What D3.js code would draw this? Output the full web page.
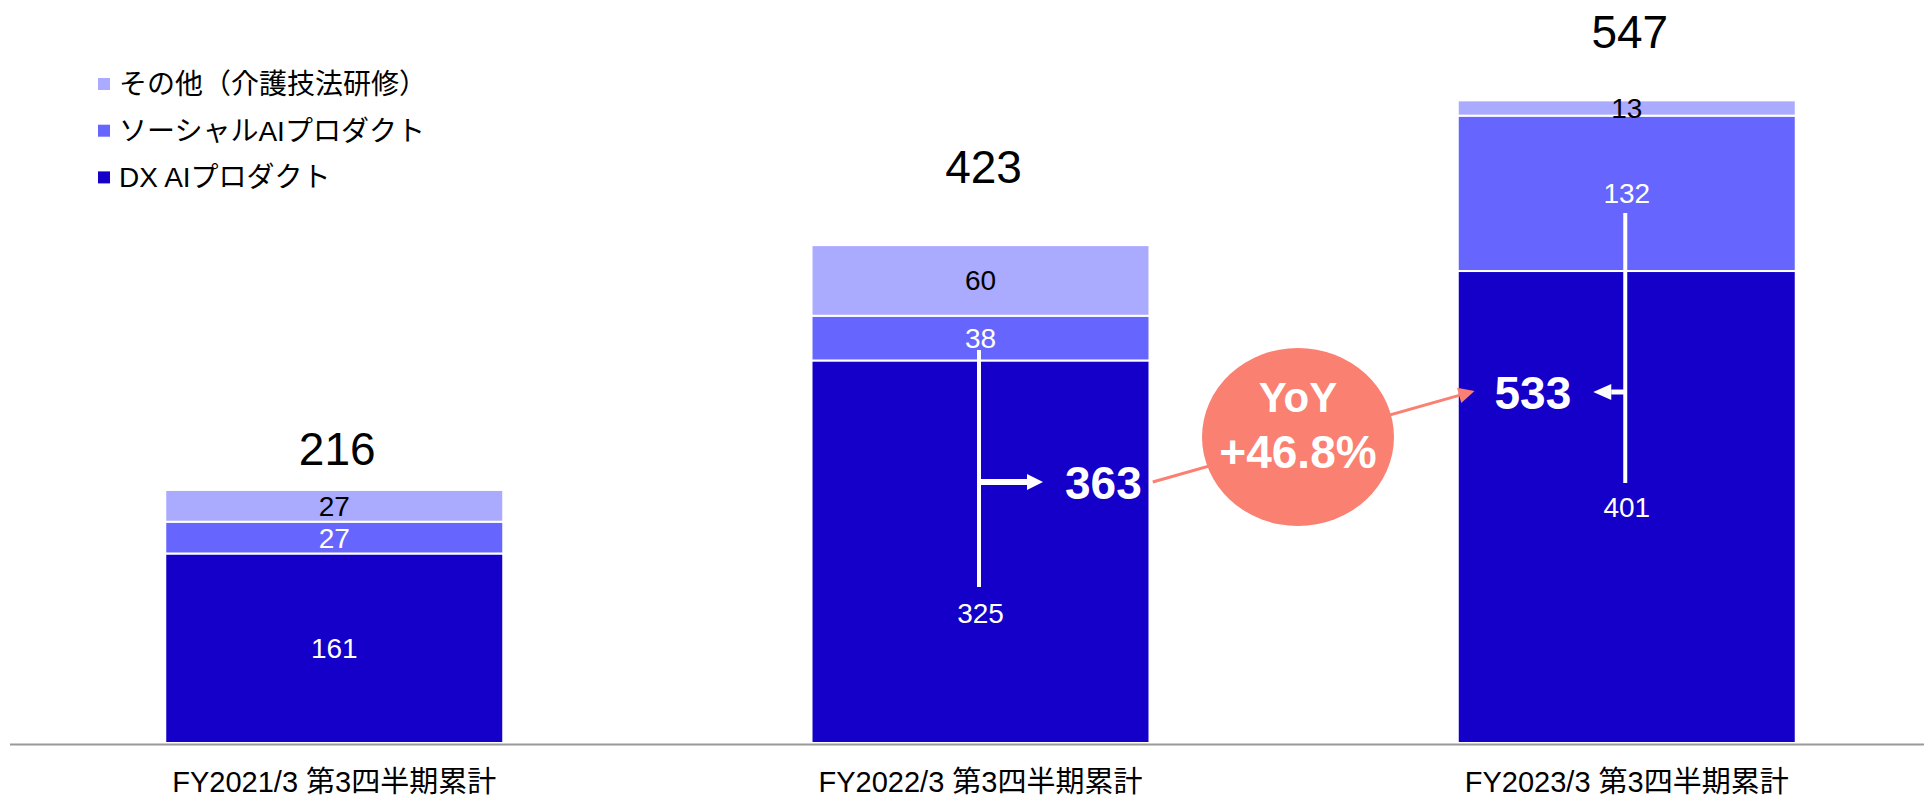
<!DOCTYPE html>
<html>
<head>
<meta charset="utf-8">
<script src="https://cdn.jsdelivr.net/npm/d3@7"></script>
<style>
  html, body { margin: 0; padding: 0; background: #ffffff; }
  svg { display: block; font-family: "Liberation Sans", Arial, "Noto Sans CJK JP", sans-serif; }
</style>
</head>
<body>
<svg id="chart" width="1924" height="799"></svg>
<script>
// ---- data (百万円) ----
const periods = ["FY2021/3 第3四半期累計", "FY2022/3 第3四半期累計", "FY2023/3 第3四半期累計"];
const seriesKeys = ["dx", "social", "other"];
const seriesNames = ["DX AIプロダクト", "ソーシャルAIプロダクト", "その他（介護技法研修）"];
const dxAI = [161, 325, 401];
const socialAI = [27, 38, 132];
const otherSales = [27, 60, 13];
const totals = [216, 423, 547];

// ---- styles / layout ----
const seriesColors = { dx: "#1400C8", social: "#6666FF", other: "#AAAAFF" };
const labelColors = { dx: "#FFFFFF", social: "#FFFFFF", other: "#000000" };
const totalLabelGap = [24, 62, 51];        // px above each bar top
const dxLabelShift = [0, 61, 0];           // px shift of the DX value label
const W = 1924, H = 799;
const baseY = 743;

const svg = d3.select("#chart");

const rows = periods.map((p, i) => ({
  period: p, dx: dxAI[i], social: socialAI[i], other: otherSales[i]
}));
const stacked = d3.stack().keys(seriesKeys)(rows);

const x = d3.scaleBand()
  .domain(periods)
  .range([36, 1925])
  .paddingInner(0.477)
  .paddingOuter(0.2);

const y = d3.scaleLinear()
  .domain([0, 600])
  .range([baseY, baseY - 600 * 1.177]);

// ---- stacked bars ----
const layers = svg.append("g").selectAll("g")
  .data(stacked)
  .join("g")
  .attr("fill", d => seriesColors[d.key]);

layers.selectAll("rect")
  .data(d => d.map(v => Object.assign(v, { key: d.key })))
  .join("rect")
  .attr("x", d => x(d.data.period))
  .attr("width", x.bandwidth())
  .attr("y", d => y(d[1]))
  .attr("height", d => y(d[0]) - y(d[1]))
  .attr("stroke", "#FFFFFF")
  .attr("stroke-width", 2);

// ---- segment value labels ----
layers.selectAll("text")
  .data(d => d.map((v, i) => ({ v, i, key: d.key })))
  .join("text")
  .attr("x", d => x(d.v.data.period) + x.bandwidth() / 2)
  .attr("y", d => (y(d.v[0]) + y(d.v[1])) / 2 + (d.key === "dx" ? dxLabelShift[d.i] : 0) + 10)
  .attr("text-anchor", "middle")
  .attr("font-size", 28)
  .attr("fill", d => labelColors[d.key])
  .text(d => d.v[1] - d.v[0]);

// ---- totals ----
svg.append("g").selectAll("text")
  .data(totals)
  .join("text")
  .attr("x", (d, i) => x(periods[i]) + x.bandwidth() / 2 + 3)
  .attr("y", (d, i) => y(d) - totalLabelGap[i])
  .attr("text-anchor", "middle")
  .attr("font-size", 46)
  .attr("fill", "#000")
  .text(d => d);

// ---- baseline axis ----
svg.append("line")
  .attr("x1", 10).attr("x2", W)
  .attr("y1", baseY + 1.5).attr("y2", baseY + 1.5)
  .attr("stroke", "#9A9A9A")
  .attr("stroke-width", 2);

const xAxis = d3.axisBottom(x).tickSize(0).tickPadding(0);
const axisG = svg.append("g")
  .attr("transform", `translate(0,${baseY})`)
  .call(xAxis);
axisG.select(".domain").remove();
axisG.selectAll("text")
  .attr("dy", null)
  .attr("y", 49)
  .attr("font-size", 29)
  .attr("font-family", "\"Liberation Sans\", Arial, \"Noto Sans CJK JP\", sans-serif")
  .attr("fill", "#000");

// ---- legend ----
const legendOrder = ["other", "social", "dx"];
const legend = svg.append("g").selectAll("g")
  .data(legendOrder)
  .join("g")
  .attr("transform", (d, i) => `translate(98,${84 + i * 46.7})`);
legend.append("rect")
  .attr("x", 0).attr("y", -6)
  .attr("width", 12).attr("height", 12)
  .attr("fill", d => seriesColors[d]);
legend.append("text")
  .attr("x", 21).attr("y", 10)
  .attr("font-size", 28)
  .attr("fill", "#000")
  .text(d => seriesNames[seriesKeys.indexOf(d)]);

// ---- brackets: DX + ソーシャル subtotal ----
const subtotal = dxAI.map((v, i) => v + socialAI[i]);
const brackets = [
  { bar: 1, top: 350, bottom: 587, arrowY: 482, dir: 1, len: 64, head: 16, shaft: 6 },
  { bar: 2, top: 213, bottom: 483, arrowY: 392, dir: -1, len: 32, head: 18, shaft: 5 }
];
const annot = svg.append("g");
const subLabelPos = [];
brackets.forEach(b => {
  const cx = x(periods[b.bar]) + x.bandwidth() / 2 - 1.5;
  annot.append("line")
    .attr("x1", cx).attr("x2", cx)
    .attr("y1", b.top).attr("y2", b.bottom)
    .attr("stroke", "#FFFFFF").attr("stroke-width", 4);
  const tip = cx + b.dir * b.len;
  const hb = tip - b.dir * b.head;
  annot.append("line")
    .attr("x1", cx).attr("x2", hb)
    .attr("y1", b.arrowY).attr("y2", b.arrowY)
    .attr("stroke", "#FFFFFF").attr("stroke-width", b.shaft);
  annot.append("path")
    .attr("d", `M${tip},${b.arrowY} L${hb},${b.arrowY - 8} L${hb},${b.arrowY + 8} Z`)
    .attr("fill", "#FFFFFF");
  const lx = tip + b.dir * 22;
  const t = annot.append("text")
    .attr("x", lx)
    .attr("y", b.arrowY + 17)
    .attr("text-anchor", b.dir > 0 ? "start" : "end")
    .attr("font-size", 46)
    .attr("font-weight", "bold")
    .attr("fill", "#FFFFFF")
    .text(subtotal[b.bar]);
  const bb = t.node().getBBox();
  subLabelPos.push({ left: bb.x, right: bb.x + bb.width, y: b.arrowY });
});

// ---- YoY growth callout ----
const growth = subtotal[2] / subtotal[1] - 1;
const from = { x: subLabelPos[0].right + 11, y: subLabelPos[0].y };
const to = { x: subLabelPos[1].left - 20, y: subLabelPos[1].y - 1 };
const salmon = "#FA8072";
const ang = Math.atan2(to.y - from.y, to.x - from.x);
const headLen = 16, headHalf = 8;
const bx = to.x - headLen * Math.cos(ang), by = to.y - headLen * Math.sin(ang);
annot.append("line")
  .attr("x1", from.x).attr("y1", from.y)
  .attr("x2", bx).attr("y2", by)
  .attr("stroke", salmon).attr("stroke-width", 3);
annot.append("path")
  .attr("d", `M${to.x},${to.y} L${bx - headHalf * Math.sin(ang)},${by + headHalf * Math.cos(ang)} L${bx + headHalf * Math.sin(ang)},${by - headHalf * Math.cos(ang)} Z`)
  .attr("fill", salmon);

const cxY = 1298, cyY = 437;
annot.append("ellipse")
  .attr("cx", cxY).attr("cy", cyY)
  .attr("rx", 96).attr("ry", 89)
  .attr("fill", salmon);
annot.append("text")
  .attr("x", cxY).attr("y", cyY - 25)
  .attr("text-anchor", "middle")
  .attr("font-size", 42).attr("font-weight", "bold")
  .attr("fill", "#FFFFFF")
  .text("YoY");
annot.append("text")
  .attr("x", cxY).attr("y", cyY + 31)
  .attr("text-anchor", "middle")
  .attr("font-size", 46).attr("font-weight", "bold")
  .attr("fill", "#FFFFFF")
  .text("+" + (growth * 100).toFixed(1) + "%");
</script>
</body>
</html>
